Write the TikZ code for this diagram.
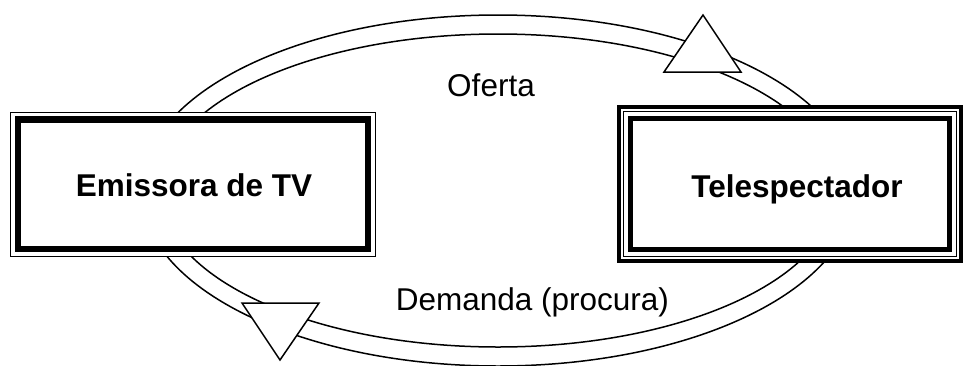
\documentclass[tikz,border=0pt]{standalone}
\usepackage{fontspec}
\setmainfont{Liberation Sans}
\begin{document}
\begin{tikzpicture}[x=1pt,y=-1pt,
  ring/.style={line width=1.5pt},
  tri/.style={line width=1.5pt,fill=white,line join=miter},
  lbl/.style={inner sep=0pt,anchor=base,font=\fontsize{31.5}{36}\selectfont},
  blbl/.style={lbl,font=\fontsize{31.5}{36}\selectfont\bfseries}]
\useasboundingbox (0,0) rectangle (967,365);
\clip (0,0) rectangle (967,365);
% two concentric rings
\draw[ring] (498,190.5) ellipse [x radius=357, y radius=175.5];
\draw[ring] (498,190.5) ellipse [x radius=338, y radius=156.5];
% left box: thin-thick border
\fill[white] (10,111.5) rectangle (376,257);
\draw[line width=1.3pt] (10.65,112.15) rectangle (375.35,256.35);
\draw[line width=6.5pt] (17.9,119.4) rectangle (368.1,249.1);
% right box: thick-thin-thick border
\fill[white] (617,105) rectangle (963,263);
\draw[line width=4.4pt] (619.2,107.2) rectangle (960.8,260.8);
\draw[line width=1.6pt] (623.4,111.4) rectangle (956.6,256.6);
\draw[line width=5pt] (630.2,118.2) rectangle (949.8,249.8);
% arrow triangles
\draw[tri] (703,15) -- (741,72) -- (664,72) -- cycle;
\draw[tri] (242,303) -- (319,303) -- (280,360) -- cycle;
% labels
\node[blbl] (emissora) at (194,196.7) {Emissora de TV};
\node[blbl] (telesp) at (797,197.3) {Telespectador};
\node[lbl] (oferta) at (491,96) {Oferta};
\node[lbl] (demanda) at (532.5,310) {Demanda (procura)};
\end{tikzpicture}
\end{document}
